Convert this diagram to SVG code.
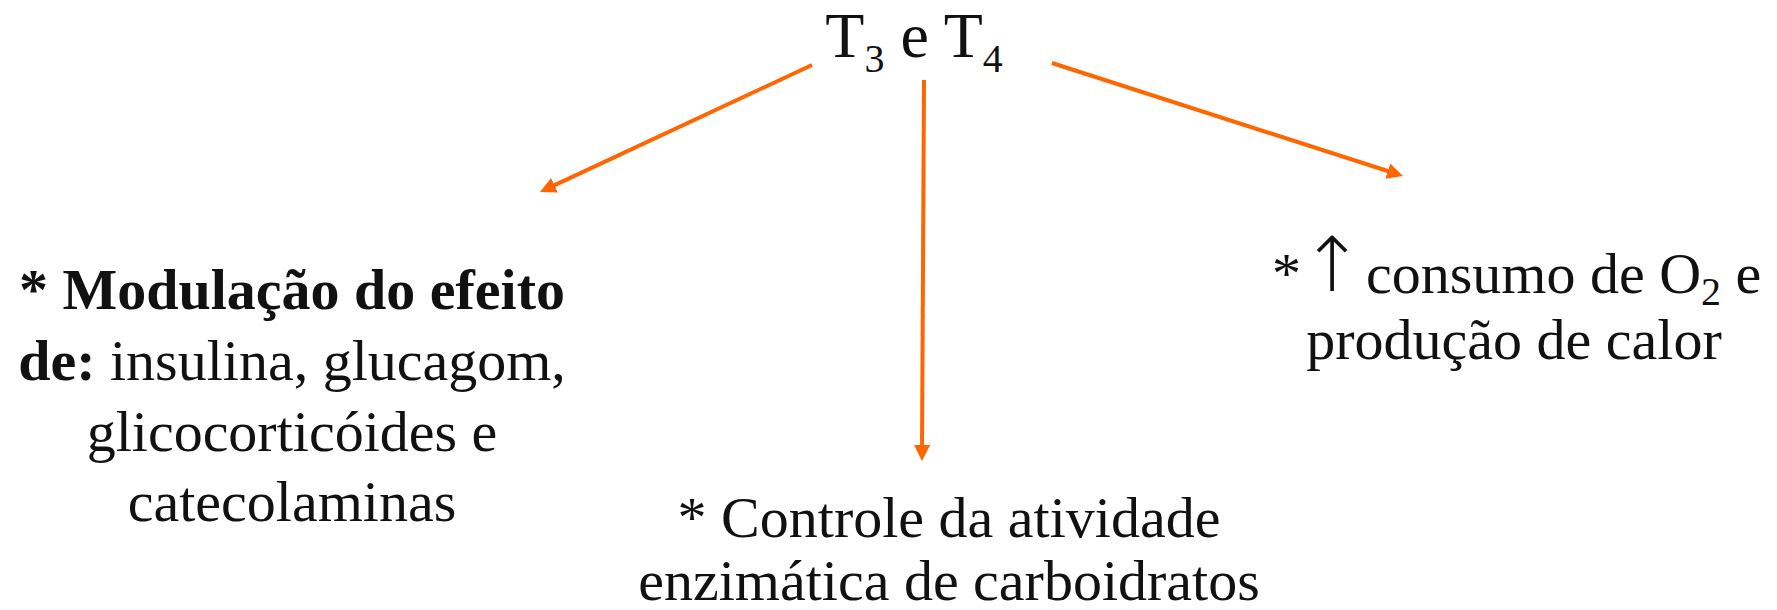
<svg xmlns="http://www.w3.org/2000/svg" width="1777" height="610" viewBox="0 0 1777 610">
<style>
text{font-family:"Liberation Serif","Times New Roman",serif;fill:#111;text-anchor:middle}
.t{font-size:58px}
.h{font-size:64px}
.s{text-anchor:start}
.c{stroke:#FF6600;stroke-width:4;fill:none}
</style>
<defs>
<marker id="ah" markerUnits="userSpaceOnUse" markerWidth="16" markerHeight="16" refX="8" refY="8" orient="auto">
<path d="M0,0 L16,8 L0,16 z" fill="#FF6600"/>
</marker>
</defs>
<rect width="1777" height="610" fill="#fff"/>
<g id="title">
<text class="h" x="914" y="57">T<tspan font-size="40" dy="15">3</tspan><tspan dy="-15"> e T</tspan><tspan font-size="40" dy="15">4</tspan></text>
</g>
<g id="connectors">
<line class="c" x1="812" y1="65" x2="547.2" y2="188.6" marker-end="url(#ah)"/>
<line class="c" x1="924" y1="80" x2="922" y2="453" marker-end="url(#ah)"/>
<line class="c" x1="1052" y1="63" x2="1395.4" y2="173.5" marker-end="url(#ah)"/>
</g>
<g id="node-left">
<text class="t" x="292" y="309"><tspan font-weight="bold">* Modulação do efeito</tspan></text>
<text class="t" x="292" y="380"><tspan font-weight="bold">de:</tspan> insulina, glucagom,</text>
<text class="t" x="292" y="451">glicocorticóides e</text>
<text class="t" x="292" y="521">catecolaminas</text>
</g>
<g id="node-middle">
<text class="t" x="949" y="537">* Controle da atividade</text>
<text class="t" x="949" y="600">enzimática de carboidratos</text>
</g>
<g id="node-right">
<text class="t s" x="1272" y="293">*<tspan x="1366">consumo de O</tspan><tspan font-size="40" dy="12">2</tspan><tspan dy="-12"> e</tspan></text>
<text x="1332" y="291" font-size="76" font-weight="200" style="font-family:'DejaVu Sans',sans-serif">↑</text>
<text class="t" x="1514" y="359">produção de calor</text>
</g>
</svg>
